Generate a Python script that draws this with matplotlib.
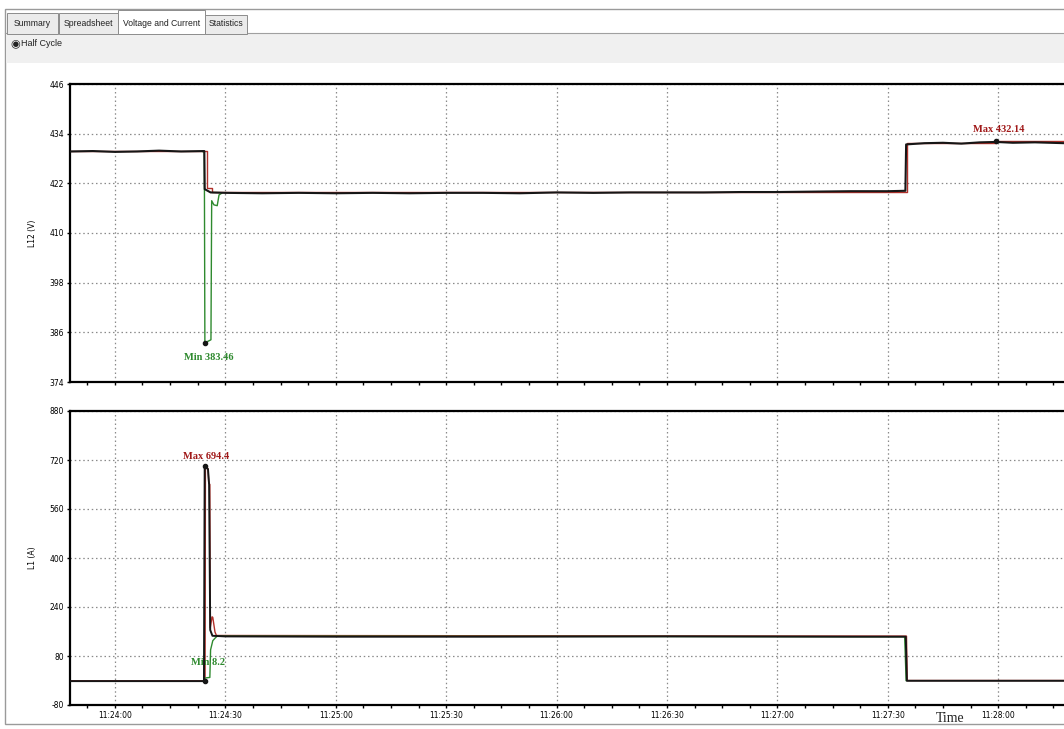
import matplotlib
matplotlib.use("Agg")
import matplotlib.pyplot as plt
import matplotlib.dates as mdates
from matplotlib.patches import Rectangle
from matplotlib.ticker import MultipleLocator
import numpy as np

plt.rcParams["axes.unicode_minus"] = False

# ---- data (seconds after 11:24:00) ----
V_TIME = [-12, -6, 0, 6, 12, 18, 24.3, 24.4, 26, 30, 40, 50, 60, 70, 80, 90, 100,
          110, 120, 130, 140, 150, 160, 170, 180, 190, 200, 210, 214.8, 215.0,
          220, 225, 230, 235, 239.4, 244, 250, 258]
V_AVG = [429.7, 429.8, 429.6, 429.7, 429.9, 429.7, 429.8, 420.6, 419.8, 419.7,
         419.6, 419.7, 419.6, 419.7, 419.6, 419.7, 419.7, 419.6, 419.8, 419.7,
         419.8, 419.8, 419.8, 419.9, 419.9, 420.0, 420.1, 420.1, 420.2, 431.4,
         431.7, 431.8, 431.6, 431.9, 432.0, 431.8, 431.9, 431.7]
VMAX_TIME = [-12, 24.9, 25.0, 26.5, 215.2, 215.3, 239.4, 258]
VMAX_VAL = [429.9, 429.9, 420.8, 420.0, 420.3, 431.8, 432.14, 431.9]
VMIN_TIME = [24.0, 24.3, 24.45, 26.1, 26.3, 26.9, 27.8, 28.3, 29.0]
VMIN_VAL = [429.6, 429.5, 383.46, 384.2, 417.8, 416.8, 416.6, 419.2, 419.6]

I_TIME = [-12, 0, 10, 20, 24.2, 24.4, 25.3, 25.6, 25.9, 26.5, 30, 60, 100, 150,
          200, 214.9, 215.2, 230, 258]
I_AVG = [-2, -2, -2, -2, -2, 700, 690, 640, 165, 146, 144, 143, 143, 144, 143,
         143, -1, -1, -1]
IMAX_TIME = [-12, 24.5, 24.6, 25.3, 25.5, 25.8, 25.9, 26.4, 26.6, 27.2, 27.6, 215.1,
             215.3, 258]
IMAX_VAL = [-1, -1, 694.4, 692, 645, 640, 172, 208, 206, 158, 147, 145, 0, 0]
IMIN_TIME = [24.0, 24.35, 24.45, 25.8, 26.0, 26.6, 27.2, 27.8, 214.5, 214.6, 215.0]
IMIN_VAL = [-2, 8.2, 8.2, 10, 100, 130, 138, 145, 143, 143, 0]

V_TICKS = [374, 386, 398, 410, 422, 434, 446]
I_TICKS = [-80, 80, 240, 400, 560, 720, 880]

T0 = np.datetime64("2020-01-01T11:24:00")


def to_dt(secs):
    return [mdates.date2num(T0 + np.timedelta64(int(round(s * 1000)), "ms")) for s in secs]


DARK = "#161616"
RED = "#b0302a"
GREEN = "#2f8a2f"

fig = plt.figure(figsize=(10.64, 7.29), dpi=100)
W, H = 1064, 729


def box(x0, y0, x1, y1, fc, ec, lw=0.8, z=-5):
    fig.patches.append(Rectangle((x0 / W, 1 - y1 / H), (x1 - x0) / W, (y1 - y0) / H,
                                 transform=fig.transFigure, fc=fc, ec=ec, lw=lw, zorder=z))


# window chrome
box(5, 9, 1070, 724, "white", "#9a9a9a", lw=1.0, z=-10)
box(6, 33, 1070, 63, "#f0f0f0", "none", z=-9)
fig.add_artist(plt.Line2D([5 / W, 1], [1 - 33 / H] * 2, color="#a0a0a0", lw=0.8,
                          transform=fig.transFigure, zorder=-8))
tabs = [("Summary", 7, 58, 13), ("Spreadsheet", 59, 118, 13),
        ("Voltage and Current", 118, 205, 10), ("Statistics", 205, 247, 15)]
for name, x0, x1, y0 in tabs:
    sel = name == "Voltage and Current"
    box(x0, y0, x1, 33.5, "white" if sel else "#ebebeb", "#8c8c8c", lw=0.7, z=-7)
    fig.text((x0 + x1) / 2 / W, 1 - 23 / H, name, ha="center", va="center",
             fontsize=6.2, family="Liberation Sans", color="#222222")
fig.text(10 / W, 1 - 44 / H, "\u25c9", ha="left", va="center", fontsize=8, color="#222222")
fig.text(21 / W, 1 - 44 / H, "Half Cycle", ha="left", va="center", fontsize=6.5,
         family="Liberation Sans", color="#222222")

left = 70 / W
width = (1064 - 70) / W
ax1 = fig.add_axes([left, 1 - 382 / H, width, 298 / H])
ax2 = fig.add_axes([left, 1 - 705 / H, width, 294 / H])

xlim = to_dt([-12.2, 17.9 + 240])
xmaj = to_dt([30 * k for k in range(9)])

for ax, ticks in ((ax1, V_TICKS), (ax2, I_TICKS)):
    ax.set_xlim(xlim)
    ax.set_ylim(ticks[0], ticks[-1])
    ax.set_yticks(ticks)
    ax.set_xticks(xmaj)
    ax.xaxis.set_minor_locator(MultipleLocator(7.5 / 86400))
    ax.xaxis.set_major_formatter(mdates.DateFormatter("%H:%M:%S"))
    ax.grid(True, which="major", color="#8a8a8a", ls=(0, (1.2, 2.2)), lw=0.9)
    ax.tick_params(axis="both", labelsize=5.5, length=2.5, width=1, pad=2)
    ax.tick_params(axis="x", which="minor", length=2, width=1)
    for s in ("left", "bottom", "top"):
        ax.spines[s].set_linewidth(1.6)
    ax.spines["right"].set_visible(False)
    ax.set_facecolor("white")

ax1.tick_params(axis="x", labelbottom=False)

# voltage
ax1.plot(to_dt(VMAX_TIME), VMAX_VAL, color=RED, lw=1.0, drawstyle="steps-post", zorder=2)
ax1.plot(to_dt(VMIN_TIME), VMIN_VAL, color=GREEN, lw=1.0, zorder=3)
ax1.plot(to_dt(V_TIME), V_AVG, color=DARK, lw=1.5, zorder=4)
ax1.plot(to_dt([24.45]), [383.46], "o", color=DARK, ms=3, zorder=5)
ax1.plot(to_dt([239.4]), [432.14], "o", color=DARK, ms=3, zorder=5)
ax1.annotate("Min 383.46", (to_dt([24.45])[0], 383.46), xytext=(3, -7),
             textcoords="offset points", ha="center", va="top", fontsize=7.5,
             fontweight="bold", family="Liberation Serif", color=GREEN)
ax1.annotate("Max 432.14", (to_dt([239.4])[0], 432.14), xytext=(2, 5),
             textcoords="offset points", ha="center", va="bottom", fontsize=7.5,
             fontweight="bold", family="Liberation Serif", color="#a01818")
ax1.set_ylabel("L12 (V)", fontsize=5.5, labelpad=9)

# current
ax2.plot(to_dt(IMAX_TIME), IMAX_VAL, color=RED, lw=1.0, zorder=2)
ax2.plot(to_dt(IMIN_TIME), IMIN_VAL, color=GREEN, lw=1.0, zorder=3)
ax2.plot(to_dt(I_TIME), I_AVG, color=DARK, lw=1.4, zorder=4)
ax2.plot(to_dt([24.45]), [700], "o", color=DARK, ms=3, zorder=5)
ax2.plot(to_dt([24.45]), [-2], "o", color=DARK, ms=3, zorder=5)
ax2.annotate("Max 694.4", (to_dt([24.45])[0], 700), xytext=(1, 4),
             textcoords="offset points", ha="center", va="bottom", fontsize=7.5,
             fontweight="bold", family="Liberation Serif", color="#a01818")
ax2.annotate("Min 8.2", (to_dt([24.45])[0], -2), xytext=(2, 10),
             textcoords="offset points", ha="center", va="bottom", fontsize=7.5,
             fontweight="bold", family="Liberation Serif", color=GREEN)
ax2.set_ylabel("L1 (A)", fontsize=5.5, labelpad=9)

fig.text(950 / W, 1 - 718 / H, "Time", ha="center", va="center", fontsize=10,
         family="Liberation Serif", color="#222222")

fig.savefig("out.png", dpi=100, facecolor="white")
